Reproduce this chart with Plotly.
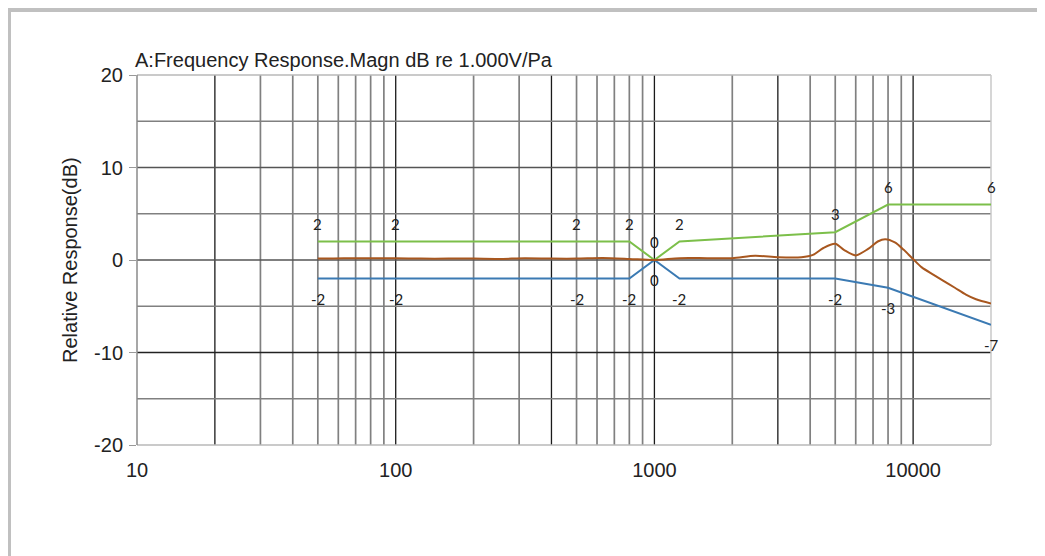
import plotly.graph_objects as go
import math

# ---------------- data ----------------
limit_freq = [50, 100, 500, 800, 1000, 1250, 5000, 8000, 20000]
upper_limit = [2, 2, 2, 2, 0, 2, 3, 6, 6]
lower_limit = [-2, -2, -2, -2, 0, -2, -2, -3, -7]

resp_freq = [50, 63, 80, 100, 125, 160, 200, 250, 315, 400, 500, 630, 800, 1000,
             1250, 1600, 2000, 2450, 3000, 3700, 4100, 4500, 5000, 5400, 6000,
             6700, 7300, 7800, 8500, 9200, 10000, 10800, 12000, 13000, 14500,
             16000, 17500, 20000]
resp_db = [0.15, 0.2, 0.2, 0.2, 0.15, 0.15, 0.15, 0.12, 0.18, 0.15, 0.15, 0.22,
           0.12, 0.0, 0.2, 0.2, 0.2, 0.45, 0.3, 0.3, 0.55, 1.3, 1.75, 1.1, 0.5,
           1.2, 2.0, 2.25, 1.9, 1.1, 0.1, -0.8, -1.6, -2.2, -3.0, -3.75, -4.25, -4.7]

x_tick_vals = [10, 100, 1000, 10000]
x_tick_text = ["10", "100", "1000", "10000"]
y_tick_vals = [20, 10, 0, -10, -20]
y_tick_text = ["20", "10", "0", "-10", "-20"]
x_grid = [20, 30, 40, 50, 60, 70, 80, 90, 100, 200, 300, 400, 500, 600, 700,
          800, 900, 1000, 2000, 3000, 4000, 5000, 6000, 7000, 8000, 9000, 10000]
x_grid_dark = [20, 100, 400, 1000, 3000, 10000]
y_grid = [15, 10, 5, 0, -5, -10, -15]
y_grid_dark = [0, 10, -10]

title_text = "A:Frequency Response.Magn dB re 1.000V/Pa"
y_title = "Relative Response(dB)"

# ---------------- style ----------------
FONT = "Liberation Sans, Arial, sans-serif"
GREEN = "#7cbf4a"
BLUE = "#3b7ab3"
BROWN = "#a8571f"

OFF = 8  # the page body adds an 8px margin around the figure
W, H = 1045 - OFF, 556 - OFF
L, R, T, B = 137 - OFF, 54, 75 - OFF, 111

fig = go.Figure()

fig.add_trace(go.Scatter(x=limit_freq, y=upper_limit, mode="lines",
                         line=dict(color=GREEN, width=2), hoverinfo="x+y"))
fig.add_trace(go.Scatter(x=limit_freq, y=lower_limit, mode="lines",
                         line=dict(color=BLUE, width=2), hoverinfo="x+y"))
fig.add_trace(go.Scatter(x=resp_freq, y=resp_db, mode="lines",
                         line=dict(color=BROWN, width=2, shape="spline", smoothing=0.8),
                         hoverinfo="x+y"))

shapes = []
for f in x_grid:
    dark = f in x_grid_dark
    shapes.append(dict(type="line", xref="x", yref="y domain", x0=f, x1=f, y0=0, y1=1,
                       layer="below",
                       line=dict(color="#1a1a1a" if dark else "#808080",
                                 width=1.3 if dark else 1.7)))
for v in y_grid:
    dark = v in y_grid_dark
    shapes.append(dict(type="line", xref="x domain", yref="y", x0=0, x1=1, y0=v, y1=v,
                       layer="below",
                       line=dict(color=("#222222" if v == -10 else "#555555") if dark else "#808080",
                                 width=1.5)))
# plot frame
shapes.append(dict(type="line", xref="x domain", yref="y domain", x0=0, x1=1, y0=1, y1=1,
                   layer="below", line=dict(color="#b8b8b8", width=1.5)))
shapes.append(dict(type="line", xref="x domain", yref="y domain", x0=0, x1=1, y0=0, y1=0,
                   layer="below", line=dict(color="#b8b8b8", width=1.5)))
shapes.append(dict(type="line", xref="x domain", yref="y domain", x0=1, x1=1, y0=0, y1=1,
                   layer="below", line=dict(color="#c8c8c8", width=1.5)))
shapes.append(dict(type="line", xref="x domain", yref="y domain", x0=0, x1=0, y0=0, y1=1,
                   layer="below", line=dict(color="#8a8a8a", width=1.5)))

# page border (top and left), positions given in page pixels
pw = W - L - R
ph = H - T - B
def px_x(px):
    return (px - OFF - L) / pw
def px_y(py):
    return (H - B - (py - OFF)) / ph
shapes.append(dict(type="line", xref="paper", yref="paper",
                   x0=px_x(7), x1=px_x(1060), y0=px_y(10), y1=px_y(10),
                   line=dict(color="#c0c0c0", width=4)))
shapes.append(dict(type="line", xref="paper", yref="paper",
                   x0=px_x(9), x1=px_x(9), y0=px_y(8), y1=px_y(570),
                   line=dict(color="#c0c0c0", width=4)))

annotations = []
LBL = dict(family="Lato, Liberation Sans, sans-serif", size=15, color="#222222")
for f, v in zip(limit_freq, upper_limit):
    annotations.append(dict(x=math.log10(f), y=v, xref="x", yref="y", text=str(v),
                            showarrow=False, yshift=18, font=LBL))
for f, v in zip(limit_freq, lower_limit):
    annotations.append(dict(x=math.log10(f), y=v, xref="x", yref="y", text=str(v),
                            showarrow=False, yshift=-20, font=LBL))

annotations.append(dict(x=px_x(134), y=px_y(60), xref="paper", yref="paper",
                        xanchor="left", yanchor="middle", text=title_text, showarrow=False,
                        borderpad=0,
                        font=dict(family=FONT, size=20, color="#222222")))
annotations.append(dict(x=px_x(70), y=0.5, xref="paper", yref="paper",
                        xanchor="center", yanchor="middle", text=y_title, textangle=-90,
                        showarrow=False, font=dict(family=FONT, size=20, color="#222222")))

fig.update_layout(
    width=W, height=H, autosize=False,
    margin=dict(l=L, r=R, t=T, b=B, pad=0),
    paper_bgcolor="white", plot_bgcolor="white",
    showlegend=False,
    shapes=shapes, annotations=annotations,
    font=dict(family=FONT, size=20, color="#222222"),
)
fig.update_xaxes(type="log", range=[1, math.log10(20000)],
                 tickvals=x_tick_vals, ticktext=x_tick_text,
                 showgrid=False, zeroline=False, showline=False,
                 ticks="", ticklabelstandoff=11,
                 tickfont=dict(family=FONT, size=20, color="#222222"))
fig.update_yaxes(range=[-20, 20], tickvals=y_tick_vals, ticktext=y_tick_text,
                 showgrid=False, zeroline=False, showline=False,
                 ticks="outside", ticklen=7, tickcolor="#999999", tickwidth=1,
                 ticklabelstandoff=2,
                 tickfont=dict(family=FONT, size=20, color="#222222"))

fig.write_html("out.html")
